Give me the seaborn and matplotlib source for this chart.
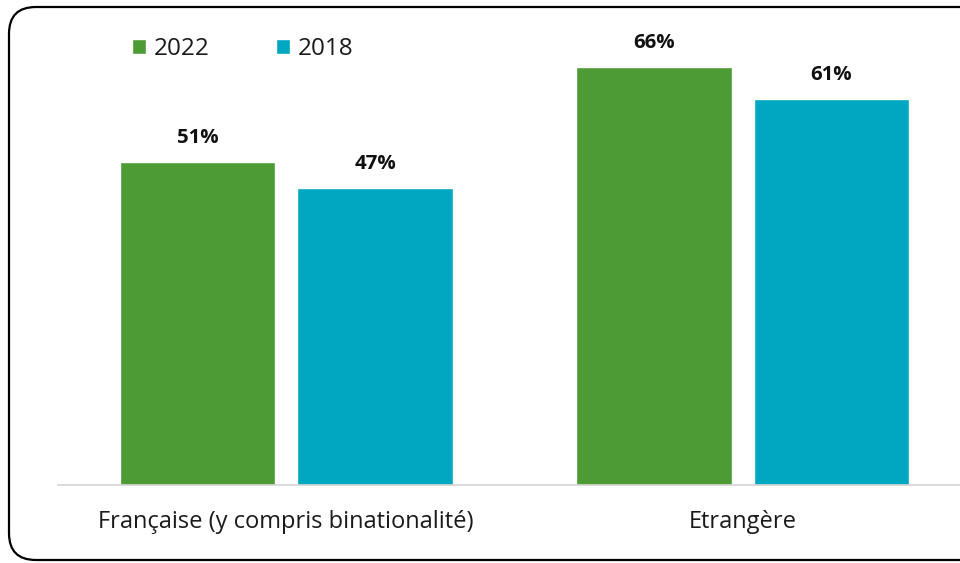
import pandas as pd
import matplotlib
matplotlib.use("Agg")
import matplotlib.pyplot as plt
from matplotlib.patches import FancyBboxPatch
import seaborn as sns

categories = ["Française (y compris binationalité)", "Etrangère"]
years = ["2022", "2018"]
values_2022 = [51, 66]
values_2018 = [47, 61]
colors = ["#4D9B35", "#00A7C1"]

df = pd.DataFrame({
    "nationalite": categories * 2,
    "annee": [years[0]] * 2 + [years[1]] * 2,
    "valeur": values_2022 + values_2018,
})

sns.set_theme(style="white")
plt.rcParams["font.family"] = ["Open Sans", "DejaVu Sans"]
plt.rcParams["text.color"] = "#1a1a1a"

fig = plt.figure(figsize=(9.6, 5.63), dpi=100)
ax = fig.add_axes([0.0604, 0.1385, 0.9396, 0.8095])

sns.barplot(data=df, x="nationalite", y="valeur", hue="annee",
            palette=colors, width=0.778, gap=0.126, ax=ax,
            saturation=1, legend=True)

for cont in ax.containers:
    ax.bar_label(cont, fmt="%d%%", padding=10, color="#111111",
                 fontsize=14.7, fontweight="bold")

ax.set_ylim(0, 72)
ax.set_xlim(-0.5, 1.476)
ax.set_xlabel("")
ax.set_ylabel("")
ax.set_yticks([])
ax.tick_params(axis="x", length=0, colors="#1a1a1a", pad=18, labelsize=17)
for s in ["top", "right", "left"]:
    ax.spines[s].set_visible(False)
ax.spines["bottom"].set_color("#d4d4d4")
ax.spines["bottom"].set_linewidth(1.2)

handles, labels = ax.get_legend_handles_labels()
leg = ax.legend(handles, labels, loc="center left",
                bbox_to_anchor=(0.1375, 0.913),
                bbox_transform=fig.transFigure, ncol=2, frameon=False,
                borderpad=0, borderaxespad=0,
                fontsize=17.5, handlelength=0.58, handleheight=0.58,
                handletextpad=0.3, columnspacing=2.75)
for t in leg.get_texts():
    t.set_color("#1a1a1a")

border = FancyBboxPatch((9 / 960, 3 / 563), 1.05, 553 / 563,
                        boxstyle="round,pad=0,rounding_size=0.028",
                        transform=fig.transFigure, fill=False,
                        edgecolor="black", linewidth=1.6,
                        mutation_aspect=960 / 563, clip_on=False)
fig.patches.append(border)

fig.savefig("out.png", dpi=100)
